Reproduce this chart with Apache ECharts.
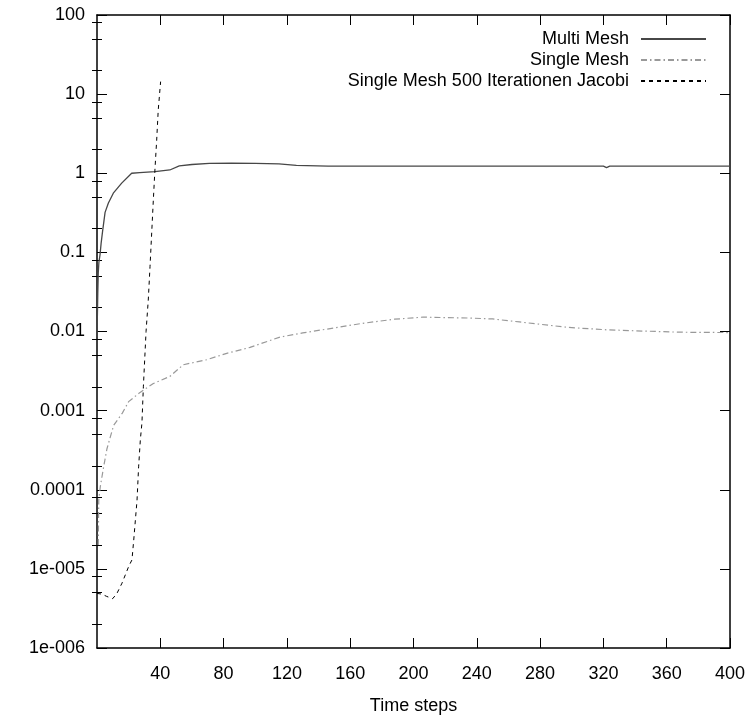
<!DOCTYPE html>
<html>
<head>
<meta charset="utf-8">
<script src="https://cdn.jsdelivr.net/npm/echarts@6/dist/echarts.min.js"></script>
<style>
html,body{margin:0;padding:0;background:#fff;}
#chart{width:755px;height:717px;}
</style>
</head>
<body>
<div id="chart"></div>
<script>
// ---- data ----
const multiX = [0, 0.5, 0.8, 1.2, 1.9, 2.6, 3.6, 5.1, 7.2, 10.3, 15.6, 21.9, 27, 36.6, 46, 52, 60, 71, 85, 100, 115, 126, 146, 200, 300, 320, 322, 324, 350, 400];
const multiY = [0.0085, 0.03, 0.055, 0.075, 0.093, 0.13, 0.19, 0.32, 0.42, 0.56, 0.75, 1.0, 1.02, 1.05, 1.1, 1.24, 1.29, 1.33, 1.34, 1.33, 1.31, 1.26, 1.23, 1.23, 1.23, 1.23, 1.18, 1.23, 1.23, 1.23];

const singleX = [0.8, 1.1, 2.1, 4.2, 6.3, 10.5, 16, 20, 27.2, 35.6, 46, 54.5, 69.3, 82, 96.7, 115.6, 130, 145, 168, 188, 206, 219, 235, 250, 267, 297, 322, 347, 368, 398, 400];
const singleY = [2e-5, 7.4e-5, 1.1e-4, 1.95e-4, 3.3e-4, 6.5e-4, 9.3e-4, 1.3e-3, 1.7e-3, 2.2e-3, 2.7e-3, 3.8e-3, 4.4e-3, 5.3e-3, 6.3e-3, 8.5e-3, 9.6e-3, 0.0107, 0.0127, 0.0143, 0.0152, 0.0150, 0.0148, 0.0144, 0.0132, 0.0113, 0.0105, 0.0101, 0.0098, 0.0097, 0.0097];

const jacobiX = [0, 3, 6, 9.9, 12.6, 15.8, 20, 22.1, 23.2, 25.3, 26.3, 27.4, 28.4, 29.3, 31, 32.4, 33.5, 35.6, 36.6, 37.7, 38.7, 40.2];
const jacobiY = [4.9e-6, 4.8e-6, 4.5e-6, 4.2e-6, 4.9e-6, 6.6e-6, 1.07e-5, 1.3e-5, 2.3e-5, 7.4e-5, 1.95e-4, 4.3e-4, 7e-4, 2e-3, 0.01, 0.025, 0.066, 0.46, 1.1, 2.6, 6.3, 14.4];

const seriesNames = ['Multi Mesh', 'Single Mesh', 'Single Mesh 500 Iterationen Jacobi'];

const xTickValues = [40, 80, 120, 160, 200, 240, 280, 320, 360, 400];
const yTickValues = [1e-6, 1e-5, 1e-4, 1e-3, 1e-2, 1e-1, 1, 10, 100];
const yTickLabels = ['1e-006', '1e-005', '0.0001', '0.001', '0.01', '0.1', '1', '10', '100'];
const yMinorTickValues = [2e-6, 5e-6, 8e-6, 2e-5, 5e-5, 8e-5, 2e-4, 5e-4, 8e-4, 2e-3, 5e-3, 8e-3,
                          0.02, 0.05, 0.08, 0.2, 0.5, 0.8, 2, 5, 8, 20, 50, 80];

const xAxisName = 'Time steps';

// ---- build ----
function pairs(xs, ys) { return xs.map((x, i) => [x, ys[i]]); }

const FONT = 'Liberation Sans';
const txt = { fontFamily: FONT, fontSize: 18, color: '#000' };

function yLabel(v) {
  const e = Math.round(Math.log10(v));
  const idx = yTickValues.findIndex(t => Math.round(Math.log10(t)) === e);
  return idx >= 0 ? yTickLabels[idx] : '';
}

const baseY = {
  type: 'log', logBase: 10, min: 1e-6, max: 100,
  splitLine: { show: false }
};

const option = {
  animation: false,
  backgroundColor: '#fff',
  grid: { left: 97, right: 25, top: 15, bottom: 69, containLabel: false, outerBoundsMode: 'none' },
  legend: seriesNames.map((n, i) => ({
    data: [n],
    right: 43,
    top: 25 + i * 21,
    orient: 'vertical',
    align: 'right',
    itemWidth: 65,
    itemHeight: 2,
    selectedMode: false,
    itemStyle: { opacity: 0 },
    textStyle: { fontFamily: FONT, fontSize: 18, color: '#000', padding: [0, 7, 0, 0] }
  })),
  xAxis: [
    {
      type: 'value', min: 0, max: 400, position: 'bottom',
      name: xAxisName, nameLocation: 'middle', nameGap: 49,
      nameTextStyle: txt,
      axisLine: { show: true, onZero: false, lineStyle: { color: '#000', width: 1.5 } },
      axisTick: { inside: true, length: 10, customValues: xTickValues, lineStyle: { color: '#000' } },
      axisLabel: { customValues: xTickValues, margin: 17, ...txt },
      splitLine: { show: false }
    },
    {
      type: 'value', min: 0, max: 400, position: 'top',
      axisLine: { show: true, onZero: false, lineStyle: { color: '#000', width: 1.5 } },
      axisTick: { inside: true, length: 10, customValues: xTickValues, lineStyle: { color: '#000' } },
      axisLabel: { show: false },
      splitLine: { show: false }
    }
  ],
  yAxis: [
    {
      ...baseY, position: 'left',
      axisLine: { show: true, onZero: false, lineStyle: { color: '#000', width: 1.5 } },
      axisTick: { inside: true, length: 10, customValues: yTickValues, lineStyle: { color: '#000' } },
      axisLabel: { customValues: yTickValues, formatter: yLabel, margin: 12, ...txt }
    },
    {
      ...baseY, position: 'right',
      axisLine: { show: true, onZero: false, lineStyle: { color: '#000', width: 1.5 } },
      axisTick: { inside: true, length: 10, customValues: yTickValues, lineStyle: { color: '#000' } },
      axisLabel: { show: false }
    },
    {
      ...baseY, position: 'left',
      axisLine: { show: false },
      axisTick: { inside: true, length: 5, customValues: yMinorTickValues, lineStyle: { color: '#000' } },
      axisLabel: { show: false }
    },
    {
      ...baseY, position: 'right',
      axisLine: { show: false },
      axisTick: { inside: true, length: 5, customValues: yMinorTickValues, lineStyle: { color: '#000' } },
      axisLabel: { show: false }
    }
  ],
  series: [
    {
      name: seriesNames[0], type: 'line', xAxisIndex: 0, yAxisIndex: 0,
      data: pairs(multiX, multiY), showSymbol: false, symbol: 'none',
      lineStyle: { color: '#474747', width: 1.3 }, itemStyle: { color: '#474747' }
    },
    {
      name: seriesNames[1], type: 'line', xAxisIndex: 0, yAxisIndex: 0,
      data: pairs(singleX, singleY), showSymbol: false, symbol: 'none',
      lineStyle: { color: '#999999', width: 1.2, type: [6, 3, 1.5, 3] }, itemStyle: { color: '#999999' }
    },
    {
      name: seriesNames[2], type: 'line', xAxisIndex: 0, yAxisIndex: 0,
      data: pairs(jacobiX, jacobiY), showSymbol: false, symbol: 'none',
      lineStyle: { color: '#000000', width: 1, type: [4, 4] }, itemStyle: { color: '#000000' }
    }
  ]
};

const chart = echarts.init(document.getElementById('chart'), null, { renderer: 'canvas' });
chart.setOption(option);
</script>
</body>
</html>
